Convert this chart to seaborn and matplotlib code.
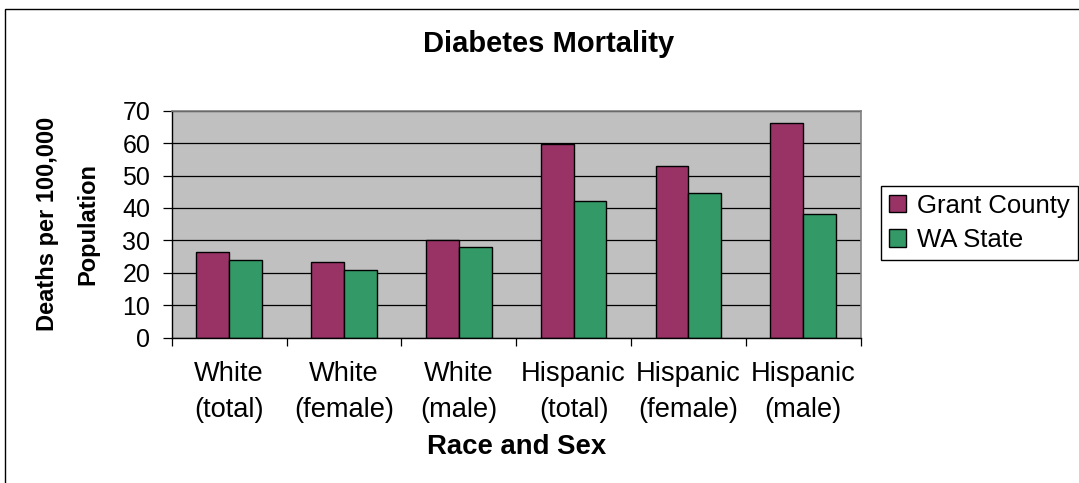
import matplotlib
matplotlib.use("Agg")
import matplotlib.pyplot as plt
from matplotlib.patches import Rectangle
from matplotlib.ticker import FixedLocator, MultipleLocator
import seaborn as sns
import pandas as pd

# Diabetes death rates per 100,000 population
categories = ["White\n(total)", "White\n(female)", "White\n(male)",
              "Hispanic\n(total)", "Hispanic\n(female)", "Hispanic\n(male)"]
grant_county = [26.3, 23.3, 30.2, 59.6, 53.1, 66.1]
wa_state = [23.9, 20.9, 27.9, 42.2, 44.7, 38.2]
series_names = ["Grant County", "WA State"]
series_colors = ["#993366", "#339966"]

df = pd.DataFrame({
    "group": categories * 2,
    "rate": grant_county + wa_state,
    "series": [series_names[0]] * len(categories) + [series_names[1]] * len(categories),
})

sns.set_theme(style="white")
plt.rcParams["font.family"] = ["Liberation Sans", "DejaVu Sans"]

W, H = 1079, 483
fig = plt.figure(figsize=(W / 100, H / 100), dpi=100)
fig.patch.set_facecolor("white")

# plot area in pixel terms
left, right, top, bottom = 171.7, 860.7, 110.7, 337.7
ax = fig.add_axes([left / W, 1 - bottom / H, (right - left) / W, (bottom - top) / H])
ax.set_facecolor("#C0C0C0")

sns.barplot(data=df, x="group", y="rate", hue="series", order=categories,
            hue_order=series_names, palette=series_colors, width=0.571, gap=0,
            edgecolor="black", linewidth=1.0, saturation=1, errorbar=None, ax=ax)

ax.set_xlim(-0.5, len(categories) - 0.5)
ax.set_ylim(0, 70)
ax.yaxis.set_major_locator(MultipleLocator(10))
ax.set_axisbelow(True)
ax.yaxis.grid(True, color="black", linewidth=0.9)
ax.xaxis.grid(False)

for side in ["top", "right"]:
    ax.spines[side].set_color("#808080")
    ax.spines[side].set_linewidth(1.2)
for side in ["left", "bottom"]:
    ax.spines[side].set_color("black")
    ax.spines[side].set_linewidth(1.0)

ax.tick_params(axis="y", which="major", direction="out", length=6.5, width=0.9,
               color="black", left=True, pad=9, labelsize=18, labelcolor="black")
ax.tick_params(axis="x", which="major", length=0, pad=17, labelsize=19.6,
               labelcolor="black")
ax.xaxis.set_minor_locator(FixedLocator([i - 0.5 for i in range(len(categories) + 1)]))
ax.tick_params(axis="x", which="minor", direction="out", length=6, width=0.9,
               color="black", bottom=True)
for lab in ax.get_xticklabels():
    lab.set_linespacing(1.5)

ax.set_xlabel("Race and Sex", fontsize=19.8, fontweight="bold", color="black")
ax.xaxis.set_label_coords(0.5, (H - 447 - (H - bottom)) / (bottom - top))
ax.xaxis.label.set_va("center")

ax.set_ylabel("Deaths per 100,000\nPopulation", fontsize=17, fontweight="bold",
              color="black", linespacing=1.96)
ax.yaxis.set_label_coords((68 - left) / (right - left), 0.5)
ax.yaxis.label.set_va("center")

fig.text(548.5 / W, 1 - 52 / H, "Diabetes Mortality", ha="center", va="baseline",
         fontsize=21, fontweight="bold", color="black")

leg = ax.legend(loc="upper left", bbox_to_anchor=(881 / W, 1 - 186 / H),
                bbox_transform=fig.transFigure, fontsize=18.5, frameon=True,
                fancybox=False, edgecolor="black", framealpha=1, borderpad=0.3,
                handlelength=0.66, handleheight=0.66, handletextpad=0.45,
                labelspacing=0.4, borderaxespad=0)
leg.get_frame().set_linewidth(1.0)
for t in leg.get_texts():
    t.set_color("black")

# outer chart frame
fig.add_artist(Rectangle((5 / W, -0.1), 1.2, 1 - 9 / H + 0.1, transform=fig.transFigure,
                         fill=False, edgecolor="black", linewidth=1.0))

fig.savefig("out.png", dpi=100)
